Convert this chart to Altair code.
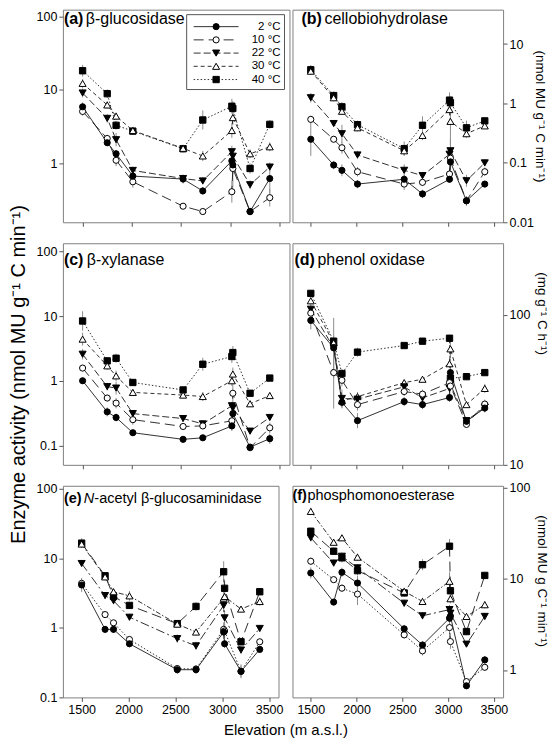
import altair as alt
import pandas as pd

ELEV = [1500, 1750, 1840, 2010, 2520, 2720, 3015, 3025, 3200, 3400]
SERIES = ["2 °C", "10 °C", "22 °C", "30 °C", "40 °C"]
ELEV_TICKS = [1500, 2000, 2500, 3000, 3500]

# (a) beta-glucosidase
A_2 = [5.9, 1.91, 1.35, 0.67, 0.61, 0.42, 1.08, 0.95, 0.22, 0.62]
A_10 = [5.1, 2.18, 1.10, 0.56, 0.26, 0.22, 0.41, 0.85, 0.22, 0.34]
A_22 = [9.1, 4.10, 2.10, 0.80, 0.62, 0.575, 1.44, 1.25, 0.51, 0.89]
A_30 = [12.3, 6.25, 4.4, 2.8, 1.6, 1.26, 2.8, 4.2, 1.35, 1.68]
A_40 = [18.3, 8.9, 3.3, 2.75, 1.58, 3.9, 6.0, 5.6, 0.85, 3.4]
A_2E = [0.06, 0.05, 0.05, 0.06, 0.06, 0.05, 0.12, 0.12, 0.05, 0.2]
A_10E = [0.06, 0.05, 0.08, 0.08, 0.04, 0.04, 0.15, 0.25, 0.05, 0.12]
A_22E = [0.06, 0.06, 0.09, 0.05, 0.05, 0.05, 0.08, 0.08, 0.06, 0.06]
A_30E = [0.06, 0.05, 0.05, 0.05, 0.05, 0.07, 0.1, 0.1, 0.06, 0.06]
A_40E = [0.08, 0.06, 0.06, 0.05, 0.05, 0.13, 0.1, 0.1, 0.07, 0.06]

# (b) cellobiohydrolase
B_2 = [0.25, 0.092, 0.075, 0.044, 0.053, 0.030, 0.053, 0.104, 0.023, 0.044]
B_10 = [0.54, 0.25, 0.18, 0.071, 0.044, 0.047, 0.065, 0.12, 0.023, 0.071]
B_22 = [1.25, 0.46, 0.31, 0.136, 0.075, 0.061, 0.14, 0.16, 0.05, 0.10]
B_30 = [3.5, 1.25, 0.74, 0.39, 0.16, 0.29, 0.79, 0.50, 0.31, 0.42]
B_40 = [3.7, 1.36, 0.88, 0.44, 0.174, 0.43, 1.14, 1.03, 0.39, 0.51]
B_2E = [0.28, 0.07, 0.1, 0.07, 0.07, 0.07, 0.06, 0.1, 0.08, 0.05]
B_10E = [0.06, 0.05, 0.1, 0.08, 0.1, 0.06, 0.1, 0.2, 0.08, 0.07]
B_22E = [0.08, 0.05, 0.15, 0.07, 0.1, 0.06, 0.1, 0.2, 0.1, 0.06]
B_30E = [0.06, 0.06, 0.06, 0.06, 0.08, 0.08, 0.1, 0.4, 0.07, 0.05]
B_40E = [0.08, 0.07, 0.08, 0.07, 0.12, 0.15, 0.13, 0.1, 0.12, 0.05]

# (c) beta-xylanase
C_2 = [1.0, 0.33, 0.27, 0.157, 0.124, 0.131, 0.20, 0.31, 0.094, 0.127]
C_10 = [1.57, 0.54, 0.45, 0.25, 0.196, 0.20, 0.24, 0.64, 0.092, 0.187]
C_22 = [2.57, 0.81, 0.77, 0.31, 0.26, 0.215, 0.41, 0.38, 0.166, 0.27]
C_30 = [4.4, 1.7, 1.19, 0.66, 0.60, 0.57, 1.0, 1.27, 0.44, 0.59]
C_40 = [8.4, 2.03, 2.23, 0.94, 0.72, 1.8, 2.37, 2.73, 0.64, 1.1]
C_2E = [0.05, 0.07, 0.06, 0.05, 0.04, 0.04, 0.08, 0.08, 0.05, 0.08]
C_10E = [0.05, 0.05, 0.08, 0.08, 0.05, 0.05, 0.08, 0.15, 0.04, 0.08]
C_22E = [0.08, 0.06, 0.1, 0.05, 0.05, 0.06, 0.06, 0.06, 0.05, 0.05]
C_30E = [0.1, 0.06, 0.08, 0.05, 0.05, 0.07, 0.08, 0.1, 0.05, 0.05]
C_40E = [0.15, 0.05, 0.07, 0.05, 0.04, 0.1, 0.1, 0.1, 0.04, 0.05]

# (d) phenol oxidase
D_2 = [91.8, 60.2, 26.1, 19.7, 26.4, 25.2, 28.1, 41.2, 19.5, 23.9]
D_10 = [102.6, 41.2, 36.6, 25.2, 30.8, 29.6, 35.3, 33.5, 18.6, 25.4]
D_22 = [109, 60.2, 27.7, 27.4, 33.1, 27.9, 32.3, 34.4, 19.7, 24.2]
D_30 = [124, 65, 26.7, 28.5, 35.3, 37.2, 47.2, 59.3, 25.2, 32.3]
D_40 = [139, 66.7, 40.6, 56.4, 62.4, 66.7, 69.8, 37.8, 38.7, 41.2]
D_2E = [0.06, 0.03, 0.04, 0.05, 0.03, 0.03, 0.03, 0.05, 0.02, 0.03]
D_10E = [0.03, 0.24, 0.04, 0.04, 0.03, 0.03, 0.03, 0.03, 0.02, 0.03]
D_22E = [0.03, 0.2, 0.06, 0.03, 0.02, 0.02, 0.03, 0.03, 0.02, 0.03]
D_30E = [0.03, 0.03, 0.03, 0.03, 0.02, 0.02, 0.03, 0.06, 0.02, 0.03]
D_40E = [0.02, 0.03, 0.03, 0.03, 0.02, 0.02, 0.02, 0.02, 0.02, 0.02]

# (e) N-acetyl beta-glucosaminidase
E_2 = [4.13, 0.95, 0.95, 0.59, 0.25, 0.25, 0.87, 0.59, 0.237, 0.49]
E_10 = [4.36, 1.55, 1.18, 0.68, 0.26, 0.256, 0.95, 0.90, 0.237, 0.63]
E_22 = [8.4, 2.91, 2.45, 1.42, 0.70, 0.55, 2.1, 1.39, 0.48, 0.98]
E_30 = [16.0, 5.4, 3.3, 2.88, 1.13, 0.87, 2.67, 2.82, 1.86, 2.39]
E_40 = [16.5, 5.6, 2.82, 2.1, 1.15, 2.03, 6.4, 3.7, 0.63, 3.3]
E_2E = [0.1, 0.05, 0.05, 0.05, 0.06, 0.06, 0.1, 0.06, 0.1, 0.04]
E_10E = [0.05, 0.04, 0.04, 0.04, 0.05, 0.05, 0.1, 0.1, 0.08, 0.04]
E_22E = [0.04, 0.05, 0.05, 0.05, 0.06, 0.06, 0.1, 0.1, 0.06, 0.05]
E_30E = [0.05, 0.05, 0.05, 0.07, 0.05, 0.05, 0.1, 0.06, 0.04, 0.06]
E_40E = [0.07, 0.05, 0.05, 0.05, 0.05, 0.06, 0.15, 0.1, 0.05, 0.05]

# (f) phosphomonoesterase
F_2 = [11.6, 5.56, 11.8, 9.0, 2.83, 1.88, 3.7, 3.9, 0.67, 1.29]
F_10 = [15.6, 9.8, 7.9, 6.8, 2.43, 1.62, 2.92, 2.05, 0.745, 1.07]
F_22 = [28.2, 14.9, 17.7, 13.2, 5.4, 3.93, 4.6, 4.2, 1.92, 3.87]
F_30 = [55, 25.2, 28.2, 17.3, 7.3, 5.65, 9.4, 6.05, 3.87, 5.2]
F_40 = [33.3, 20.1, 17.0, 12.3, 7.0, 14.3, 22.8, 7.4, 2.64, 10.9]
F_2E = [0.06, 0.03, 0.05, 0.08, 0.04, 0.04, 0.06, 0.06, 0.03, 0.04]
F_10E = [0.04, 0.03, 0.04, 0.12, 0.04, 0.05, 0.15, 0.08, 0.04, 0.04]
F_22E = [0.04, 0.04, 0.04, 0.04, 0.04, 0.04, 0.05, 0.05, 0.03, 0.04]
F_30E = [0.04, 0.03, 0.03, 0.04, 0.04, 0.04, 0.1, 0.05, 0.03, 0.04]
F_40E = [0.04, 0.04, 0.05, 0.05, 0.04, 0.06, 0.08, 0.05, 0.04, 0.04]

FONT = "Liberation Sans"
INK = "#1a1a1a"

MARKERS = {
    "2 °C": dict(shape="circle", fill="black", size=38),
    "10 °C": dict(shape="circle", fill="white", size=38),
    "22 °C": dict(shape="triangle-down", fill="black", size=50),
    "30 °C": dict(shape="triangle-up", fill="white", size=50),
    "40 °C": dict(shape="square", fill="black", size=40),
}
DASH_MAIN = {"2 °C": None, "10 °C": [10, 5], "22 °C": [7, 3], "30 °C": [4, 3], "40 °C": [1.5, 2]}
DASH_E = {"2 °C": None, "10 °C": [1.5, 2], "22 °C": [9, 3, 2, 3], "30 °C": [5, 2, 1.5, 2], "40 °C": [10, 5]}
DASH_F = {"2 °C": None, "10 °C": [1.5, 2], "22 °C": [10, 3, 2, 3], "30 °C": [5, 2, 1.5, 2], "40 °C": [10, 5]}


def yaxis(values, orient, **kw):
    return alt.Axis(orient=orient, values=values, format="~g", tickSize=4,
                    labelPadding=2, domain=False, grid=False, **kw)


def xaxis(labels, **kw):
    return alt.Axis(values=ELEV_TICKS, labels=labels, format="d", tickSize=4,
                    labelPadding=2, domain=False, grid=False, **kw)


def panel(vals, errs, domain, width, height, dash, yax, xax, texts, legend=False):
    rows = []
    for s, v, e in zip(SERIES, vals, errs):
        for x, y, d in zip(ELEV, v, e):
            rows.append({"elev": x, "series": s, "value": y,
                         "lo": y / 10 ** d, "hi": y * 10 ** d})
    df = pd.DataFrame(rows)
    xs = alt.Scale(domain=[1300, 3600], nice=False, zero=False)
    ys = alt.Scale(type="log", domain=domain, nice=False)
    X = alt.X("elev:Q", scale=xs, axis=xax)
    layers = [alt.Chart(df).mark_rule(color="#8c8c8c", strokeWidth=1, clip=True).encode(
        x=X, y=alt.Y("lo:Q", scale=ys, axis=yax), y2="hi:Q")]
    for s in SERIES:
        kw = dict(color=INK, strokeWidth=0.9, clip=True)
        if dash[s]:
            kw["strokeDash"] = dash[s]
        layers.append(alt.Chart(df[df.series == s]).mark_line(**kw).encode(
            x=X, y=alt.Y("value:Q", scale=ys, axis=yax)))
    for s in SERIES[::-1]:
        m = MARKERS[s]
        layers.append(alt.Chart(df[df.series == s]).mark_point(
            shape=m["shape"], filled=True, fill=m["fill"], stroke="black",
            strokeWidth=1, size=m["size"], opacity=1, clip=True).encode(
            x=X, y=alt.Y("value:Q", scale=ys, axis=yax)))
    dummy = pd.DataFrame({"k": [0]})
    for t in texts:
        layers.append(alt.Chart(dummy).mark_text(
            text=t["text"], font=FONT, fontSize=t["size"], fontWeight=t.get("weight", "normal"),
            fontStyle=t.get("style", "normal"), align="left", baseline="middle", color="black").encode(
            x=alt.value(t["x"]), y=alt.value(t["y"])))
    main = alt.layer(*layers)
    if not legend:
        return main.properties(width=width, height=height)
    ldf = pd.DataFrame({"series": SERIES})
    LY = alt.Y("series:N", scale=alt.Scale(type="point", domain=SERIES, range=[17, 70], padding=0), axis=None)
    leg = [alt.Chart(dummy).mark_rect(fill="white", stroke="#555", strokeWidth=1).encode(
        x=alt.value(124), x2=alt.value(222), y=alt.value(5), y2=alt.value(80))]
    for s in SERIES:
        kw = dict(color=INK, strokeWidth=0.9)
        if dash[s]:
            kw["strokeDash"] = dash[s]
        leg.append(alt.Chart(ldf[ldf.series == s]).mark_rule(**kw).encode(
            x=alt.value(131), x2=alt.value(176), y=LY))
    for s in SERIES:
        m = MARKERS[s]
        leg.append(alt.Chart(ldf[ldf.series == s]).mark_point(
            shape=m["shape"], filled=True, fill=m["fill"], stroke="black",
            strokeWidth=1, size=m["size"], opacity=1).encode(x=alt.value(153.5), y=LY))
    leg.append(alt.Chart(ldf).mark_text(font=FONT, fontSize=11.5, align="right", baseline="middle",
                                         color="black").encode(x=alt.value(218), y=LY, text="series:N"))
    return alt.layer(main, alt.layer(*leg)).resolve_scale(y="independent").properties(
        width=width, height=height)


pa = panel([A_2, A_10, A_22, A_30, A_40], [A_2E, A_10E, A_22E, A_30E, A_40E],
           [0.157, 124.5], 227, 213, DASH_MAIN,
           yaxis([1, 10, 100], "left", title=None), xaxis(False, title=None),
           [dict(text="(a)", x=1, y=9, size=16, weight="bold"),
            dict(text="β-glucosidase", x=23, y=9, size=16)], legend=True)

pb = panel([B_2, B_10, B_22, B_30, B_40], [B_2E, B_10E, B_22E, B_30E, B_40E],
           [0.01, 38], 211, 213, DASH_MAIN,
           yaxis([0.01, 0.1, 1, 10], "right", title="(nmol MU g⁻¹ C min⁻¹)",
                 titleFontSize=13.5, titleX=36, titleBaseline="middle"),
           xaxis(False, title=None),
           [dict(text="(b)", x=9, y=9, size=16, weight="bold"),
            dict(text="cellobiohydrolase", x=32, y=9, size=16)])

pc = panel([C_2, C_10, C_22, C_30, C_40], [C_2E, C_10E, C_22E, C_30E, C_40E],
           [0.05, 134], 227, 222, DASH_MAIN,
           yaxis([0.1, 1, 10, 100], "left", title="Enzyme activity (nmol MU g⁻¹ C min⁻¹)",
                 titleFontSize=20, titleX=-44, titleY=131, titleBaseline="middle"),
           xaxis(False, title=None),
           [dict(text="(c)", x=1, y=17, size=16, weight="bold"),
            dict(text="β-xylanase", x=24, y=17, size=16)])

pd_ = panel([D_2, D_10, D_22, D_30, D_40], [D_2E, D_10E, D_22E, D_30E, D_40E],
            [10, 300], 211, 222, DASH_MAIN,
            yaxis([10, 100], "right", title="(mg g⁻¹ C h⁻¹)",
                  titleFontSize=13.5, titleX=38, titleY=70, titleBaseline="middle"),
            xaxis(False, title=None),
            [dict(text="(d)", x=2, y=17, size=16, weight="bold"),
             dict(text="phenol oxidase", x=25, y=17, size=16)])

pe = panel([E_2, E_10, E_22, E_30, E_40], [E_2E, E_10E, E_22E, E_30E, E_40E],
           [0.1, 110], 216, 212, DASH_E,
           yaxis([0.1, 1, 10, 100], "left", title=None),
           xaxis(True, title="Elevation (m a.s.l.)", titleFontSize=15, titleX=223,
                 titleY=25, titleBaseline="top"),
           [dict(text="(e)", x=1, y=13, size=14.5, weight="bold"),
            dict(text="N", x=21, y=13, size=14.5, style="italic"),
            dict(text="-acetyl β-glucosaminidase", x=31.5, y=13, size=14.5)])

pf = panel([F_2, F_10, F_22, F_30, F_40], [F_2E, F_10E, F_22E, F_30E, F_40E],
           [0.5, 105], 211, 212, DASH_F,
           yaxis([1, 10, 100], "right", title="(nmol MU g C⁻¹ min⁻¹)",
                 titleFontSize=13.5, titleX=38, titleY=95, titleBaseline="middle"),
           xaxis(True, title=None),
           [dict(text="(f)", x=0, y=10, size=14.5, weight="bold"),
            dict(text="phosphomonoesterase", x=15, y=10, size=14.5)])

chart = alt.concat(pa, pb, pc, pd_, pe, pf, columns=2,
                   spacing={"row": 21, "column": 3}, bounds="flush", align="each").properties(
    padding=0, background="white"
).configure_view(stroke="#808080", strokeWidth=1).configure_axis(
    labelFont=FONT, labelFontSize=12.5, labelColor="black", tickColor="#555",
    titleFont=FONT, titleFontWeight="normal", titleColor="black"
)

chart.save("out.html", embed_options={"renderer": "svg", "actions": False})
